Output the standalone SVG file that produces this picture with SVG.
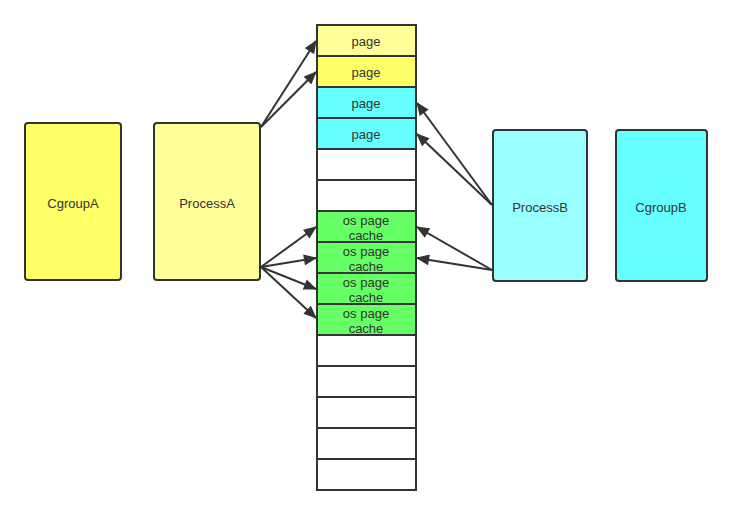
<svg xmlns="http://www.w3.org/2000/svg" width="732" height="515" viewBox="0 0 732 515">
<style>
.box{stroke:#333;stroke-width:2}
.cell{stroke:#333;stroke-width:2}
text{font-family:"Helvetica Neue","Liberation Sans",Arial,sans-serif;font-size:13px;fill:#333;text-anchor:middle}
.edge{stroke:#333;stroke-width:2;fill:none;marker-end:url(#ah)}
</style>
<defs>
<marker id="ah" viewBox="0 0 12 10" refX="11" refY="5" markerWidth="7" markerHeight="5.5" orient="auto" markerUnits="strokeWidth">
<path d="M0,0 L12,5 L0,10 z" fill="#333"/>
</marker>
</defs>
<rect width="732" height="515" fill="#fff"/>
<g id="cgroupA"><rect class="box" x="25" y="123" width="96" height="157" rx="3" fill="#ffff66"/><text x="73" y="208">CgroupA</text></g>
<g id="processA"><rect class="box" x="154" y="123" width="106" height="157" rx="3" fill="#ffff99"/><text x="207" y="208">ProcessA</text></g>
<g id="processB"><rect class="box" x="493" y="130" width="94" height="151" rx="3" fill="#99ffff"/><text x="540" y="212">ProcessB</text></g>
<g id="cgroupB"><rect class="box" x="616" y="130" width="91" height="151" rx="3" fill="#66ffff"/><text x="661" y="212">CgroupB</text></g>
<g id="memory">
<g id="c1"><rect class="cell" x="317" y="25" width="99" height="31" fill="#ffff99"/><text x="366" y="46">page</text></g>
<g id="c2"><rect class="cell" x="317" y="56" width="99" height="31" fill="#ffff66"/><text x="366" y="77">page</text></g>
<g id="c3"><rect class="cell" x="317" y="87" width="99" height="31" fill="#66ffff"/><text x="366" y="108">page</text></g>
<g id="c4"><rect class="cell" x="317" y="118" width="99" height="31" fill="#66ffff"/><text x="366" y="139">page</text></g>
<g id="c5"><rect class="cell" x="317" y="149" width="99" height="31" fill="#fff"/></g>
<g id="c6"><rect class="cell" x="317" y="180" width="99" height="31" fill="#fff"/></g>
<g id="c7"><rect class="cell" x="317" y="211" width="99" height="31" fill="#66ff66"/><text x="366" y="225">os page</text><text x="366" y="240">cache</text></g>
<g id="c8"><rect class="cell" x="317" y="242" width="99" height="31" fill="#66ff66"/><text x="366" y="256">os page</text><text x="366" y="271">cache</text></g>
<g id="c9"><rect class="cell" x="317" y="273" width="99" height="31" fill="#66ff66"/><text x="366" y="287">os page</text><text x="366" y="302">cache</text></g>
<g id="c10"><rect class="cell" x="317" y="304" width="99" height="31" fill="#66ff66"/><text x="366" y="318">os page</text><text x="366" y="333">cache</text></g>
<g id="c11"><rect class="cell" x="317" y="335" width="99" height="31" fill="#fff"/></g>
<g id="c12"><rect class="cell" x="317" y="366" width="99" height="31" fill="#fff"/></g>
<g id="c13"><rect class="cell" x="317" y="397" width="99" height="31" fill="#fff"/></g>
<g id="c14"><rect class="cell" x="317" y="428" width="99" height="31" fill="#fff"/></g>
<g id="c15"><rect class="cell" x="317" y="459" width="99" height="31" fill="#fff"/></g>
</g>
<g id="connectors">
<line class="edge" x1="261" y1="127" x2="316" y2="41"/>
<line class="edge" x1="261" y1="127" x2="316" y2="72"/>
<line class="edge" x1="261" y1="267" x2="316" y2="227"/>
<line class="edge" x1="261" y1="267" x2="316" y2="258"/>
<line class="edge" x1="261" y1="267" x2="316" y2="289"/>
<line class="edge" x1="261" y1="267" x2="316" y2="318"/>
<line class="edge" x1="492" y1="205" x2="417" y2="103"/>
<line class="edge" x1="492" y1="205" x2="417" y2="134"/>
<line class="edge" x1="492" y1="270" x2="417" y2="227"/>
<line class="edge" x1="492" y1="270" x2="417" y2="258"/>
</g>
</svg>
